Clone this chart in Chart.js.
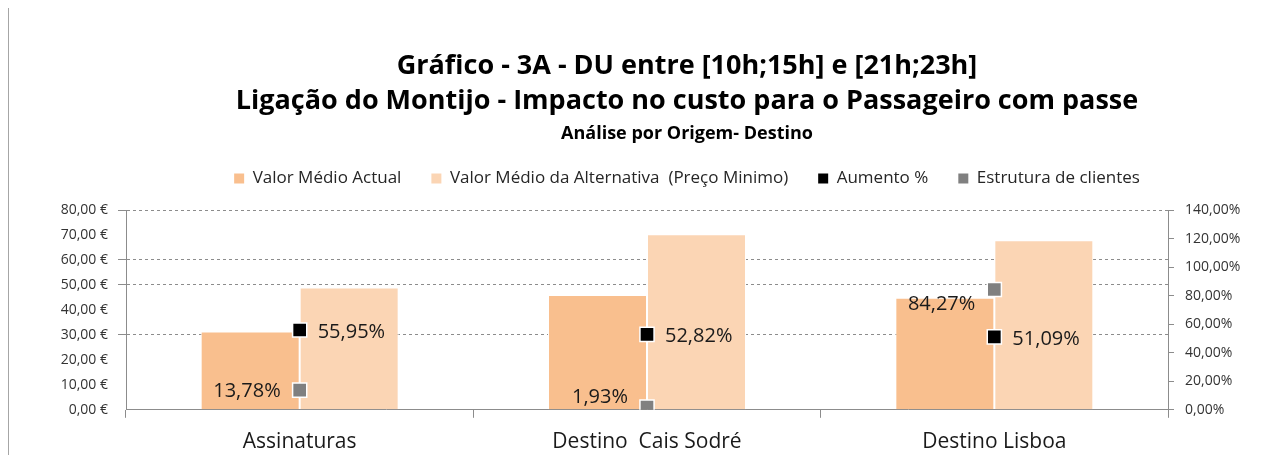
<!DOCTYPE html>
<html><head><meta charset="utf-8">
<script src="https://cdn.jsdelivr.net/npm/chart.js@4/dist/chart.umd.min.js"></script>
<style>
html,body{margin:0;padding:0;background:#fff;}
#wrap{position:relative;width:1261px;height:470px;overflow:hidden;}
#frame{position:absolute;left:8px;top:8px;width:1px;height:447px;background:#a6a6a6;}
#c{position:absolute;left:0;top:0;}
</style></head>
<body><div id="wrap"><div id="frame"></div><canvas id="c" width="1261" height="470"></canvas></div>
<script>
const categories = ['Assinaturas', 'Destino  Cais Sodré', 'Destino Lisboa'];
const valorActual = [31.4, 46.0, 44.9];
const valorAlternativa = [49.0, 70.3, 67.9];
const aumento = [55.95, 52.82, 51.09];
const estrutura = [13.78, 1.93, 84.27];
const seriesNames = ['Valor Médio Actual', 'Valor Médio da Alternativa  (Preço Minimo)', 'Aumento %', 'Estrutura de clientes'];
const titleLines = ['Gráfico - 3A - DU entre [10h;15h] e [21h;23h]', 'Ligação do Montijo - Impacto no custo para o Passageiro com passe'];
const subtitleText = 'Análise por Origem- Destino';

const FONT = '"Open Sans", Lato, sans-serif';
const pct = v => v.toFixed(2).replace('.', ',') + '%';
const eur = v => v.toFixed(2).replace('.', ',') + ' €';

const spacer = {
  id: 'spacer',
  beforeInit(chart) {
    const box = {
      position: 'top', weight: 10, fullSize: true,
      options: { stackWeight: 1 },
      isHorizontal() { return true; },
      update(maxWidth) { this.width = maxWidth; this.height = 13; },
      draw() {}
    };
    Chart.layouts.addBox(chart, box);
  }
};

// left axis tick labels (drawn outside the narrow left scale box)
const leftLabels = {
  id: 'leftLabels',
  afterDraw(chart) {
    const s = chart.scales.y;
    const ctx = chart.ctx;
    ctx.save();
    ctx.font = '14px ' + FONT;
    ctx.fillStyle = '#333';
    ctx.textAlign = 'right';
    ctx.textBaseline = 'middle';
    s.ticks.forEach((t, i) => {
      ctx.fillText(eur(t.value), s.right - 18, s.getPixelForTick(i));
    });
    ctx.restore();
  }
};

const pointLabels = {
  id: 'pointLabels',
  afterDatasetsDraw(chart) {
    const ctx = chart.ctx;
    ctx.save();
    ctx.font = '20px ' + FONT;
    ctx.fillStyle = '#1a1a1a';
    ctx.textBaseline = 'middle';
    const m2 = chart.getDatasetMeta(2);
    m2.data.forEach((pt, i) => {
      ctx.textAlign = 'left';
      ctx.fillText(pct(aumento[i]), pt.x + 18, pt.y + 2);
    });
    const m3 = chart.getDatasetMeta(3);
    const dy = [1, -10, 15];
    m3.data.forEach((pt, i) => {
      ctx.textAlign = 'right';
      ctx.fillText(pct(estrutura[i]), pt.x - 19, pt.y + dy[i]);
    });
    ctx.restore();
  }
};

new Chart(document.getElementById('c'), {
  data: {
    labels: categories,
    datasets: [
      { type: 'bar', label: seriesNames[0], data: valorActual, yAxisID: 'y',
        backgroundColor: '#F9BF8E', borderColor: '#ffffff', borderWidth: 1, order: 3,
        categoryPercentage: 0.57, barPercentage: 1.0 },
      { type: 'bar', label: seriesNames[1], data: valorAlternativa, yAxisID: 'y',
        backgroundColor: '#FBD5B4', borderColor: '#ffffff', borderWidth: 1, order: 3,
        categoryPercentage: 0.57, barPercentage: 1.0 },
      { type: 'line', label: seriesNames[2], data: aumento, yAxisID: 'y1', showLine: false,
        pointStyle: 'rect', pointRadius: 10, pointHoverRadius: 10,
        backgroundColor: '#000000', borderColor: '#ffffff', pointBorderWidth: 1.5, order: 1 },
      { type: 'line', label: seriesNames[3], data: estrutura, yAxisID: 'y1', showLine: false,
        pointStyle: 'rect', pointRadius: 10, pointHoverRadius: 10,
        backgroundColor: '#808080', borderColor: '#ffffff', pointBorderWidth: 1.5, order: 2 }
    ]
  },
  options: {
    responsive: false,
    animation: false,
    events: [],
    layout: { padding: { left: 113, right: 0, top: 0, bottom: 3 } },
    plugins: {
      title: { display: true, text: titleLines, color: '#000',
        font: { family: FONT, size: 27, weight: 'bold', lineHeight: 35 / 27 },
        padding: { top: 49, bottom: 0 } },
      subtitle: { display: true, text: subtitleText, color: '#000',
        font: { family: FONT, size: 18, weight: 'bold', lineHeight: 13 / 18 },
        padding: { top: 8, bottom: 0 } },
      legend: { display: true, position: 'top',
        labels: { font: { family: FONT, size: 17 }, color: '#262626',
          boxWidth: 10, boxHeight: 10, padding: 30,
          generateLabels(chart) {
            const cols = ['#F9BF8E', '#FBD5B4', '#000000', '#808080'];
            return chart.data.datasets.map((ds, i) => ({
              text: ds.label, fillStyle: cols[i], strokeStyle: cols[i], lineWidth: 0,
              hidden: false, datasetIndex: i, fontColor: '#262626'
            }));
          } } },
      tooltip: { enabled: false }
    },
    scales: {
      x: {
        offset: true,
        grid: { drawOnChartArea: false, tickLength: 8, color: '#8c8c8c', offset: true },
        border: { color: '#8c8c8c' },
        ticks: { font: { family: FONT, size: 21 }, color: '#1a1a1a', padding: 12 }
      },
      y: {
        position: 'left', min: 0, max: 80,
        afterFit(s) { s.width = 13; },
        ticks: { stepSize: 10, display: false },
        grid: { drawTicks: true, tickLength: 8,
          color: c => ([30, 50, 60, 80].includes(c.tick && c.tick.value) ? '#8c8c8c' : 'rgba(0,0,0,0)') },
        border: { color: '#8c8c8c', dash: [3, 3] }
      },
      y1: {
        position: 'right', min: 0, max: 140,
        afterFit(s) { s.width = 93; },
        ticks: { stepSize: 20, callback: v => pct(v), font: { family: FONT, size: 14 }, color: '#333', padding: 11 },
        grid: { drawOnChartArea: false, tickLength: 6, color: '#8c8c8c' },
        border: { color: '#8c8c8c' }
      }
    }
  },
  plugins: [spacer, leftLabels, pointLabels]
});
</script>
</body></html>
